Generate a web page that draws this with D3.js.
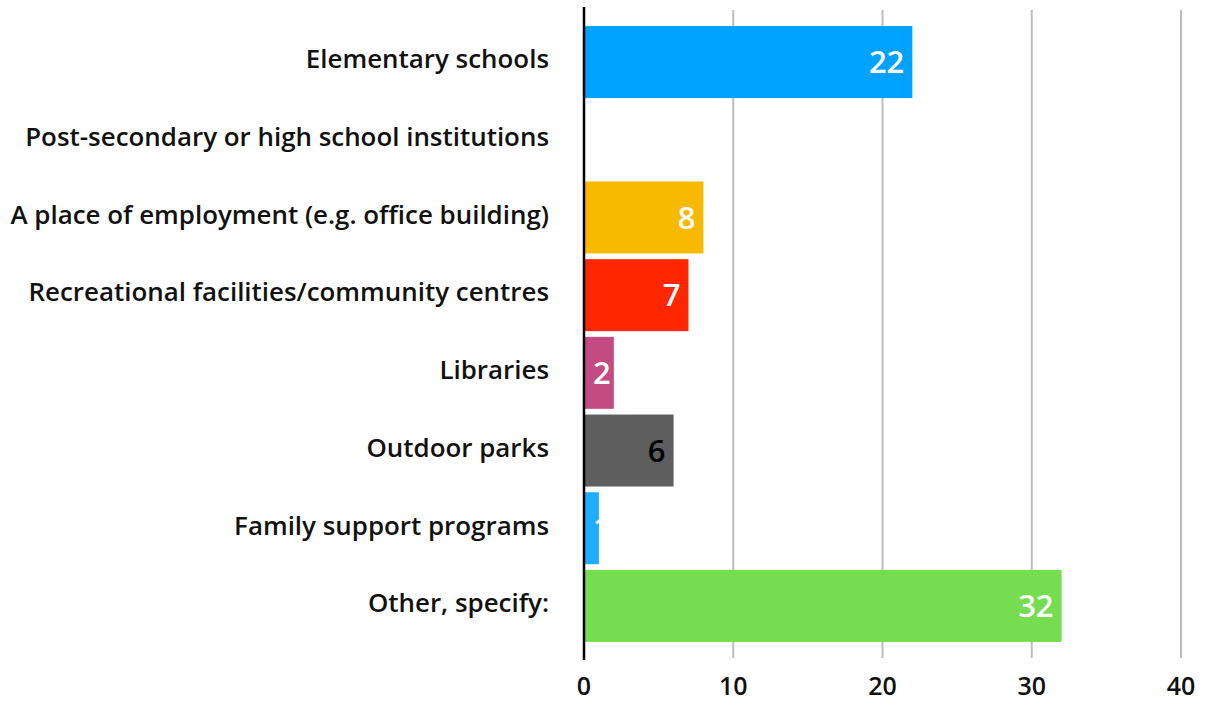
<!DOCTYPE html>
<html>
<head>
<meta charset="utf-8">
<script src="https://cdn.jsdelivr.net/npm/d3@7"></script>
<style>
  html, body { margin: 0; padding: 0; background: #fff; }
  svg { display: block; }
</style>
</head>
<body>
<svg id="chart" width="1209" height="704"></svg>
<script>
const categories = [
  "Elementary schools",
  "Post-secondary or high school institutions",
  "A place of employment (e.g. office building)",
  "Recreational facilities/community centres",
  "Libraries",
  "Outdoor parks",
  "Family support programs",
  "Other, specify:"
];
const values = [22, 0, 8, 7, 2, 6, 1, 32];
const barColors = ["#00A2FF", "#00A2FF", "#F8BA00", "#FF2600", "#C44B82", "#5E5E5E", "#20ADFF", "#75DD4F"];
const labelColors = ["#fff", "#fff", "#fff", "#fff", "#fff", "#000", "#fff", "#fff"];
const xTicks = [0, 10, 20, 30, 40];

const svg = d3.select("#chart");
const x = d3.scaleLinear().domain([0, 40]).range([584, 1181]);
const y = d3.scaleBand().domain(categories).range([10, 658]).paddingInner(0.0735).paddingOuter(0.207);

const font = "'Open Sans', Lato, sans-serif";

// gridlines
svg.append("g").selectAll("line").data(xTicks.filter(d => d > 0)).join("line")
  .attr("x1", d => x(d)).attr("x2", d => x(d))
  .attr("y1", 10).attr("y2", 658)
  .attr("stroke", "#BDBDBD").attr("stroke-width", 2);

// bars
const defs = svg.append("defs");
categories.forEach((c, i) => {
  defs.append("clipPath").attr("id", "clip" + i).append("rect")
    .attr("x", x(0)).attr("y", y(c))
    .attr("width", Math.max(0, x(values[i]) - x(0))).attr("height", y.bandwidth());
});

svg.append("g").selectAll("rect").data(categories).join("rect")
  .attr("x", x(0))
  .attr("y", d => y(d))
  .attr("width", (d, i) => x(values[i]) - x(0))
  .attr("height", y.bandwidth())
  .attr("fill", (d, i) => barColors[i]);

// value labels
const vl = svg.append("g");
categories.forEach((c, i) => {
  if (values[i] <= 0) return;
  const t = vl.append("text")
    .attr("clip-path", `url(#clip${i})`)
    .attr("y", y(c) + y.bandwidth() / 2)
    .attr("dy", "0.36em")
    .attr("font-family", font)
    .attr("font-size", 31)
    .attr("font-weight", 600)
    .attr("fill", labelColors[i])
    .text(values[i]);
  const w = t.node().getComputedTextLength();
  const xs = Math.max(x(values[i]) - 8 - w, x(0) + 9);
  t.attr("x", xs);
});

// axis line at 0
svg.append("line")
  .attr("x1", x(0)).attr("x2", x(0))
  .attr("y1", 7).attr("y2", 660)
  .attr("stroke", "#000").attr("stroke-width", 2.5);

// category labels
const cl = svg.append("g").selectAll("text").data(categories).join("text")
  .attr("x", 549)
  .attr("y", d => y(d) + y.bandwidth() / 2 - 3)
  .attr("dy", "0.36em")
  .attr("text-anchor", "end")
  .attr("font-family", font)
  .attr("font-size", 22)
  .attr("font-weight", 600)
  .attr("fill", "#111")
  .text(d => d);
// fit longest label to reference width
const maxW = d3.max(cl.nodes(), n => n.getComputedTextLength());
const fs = 22 * 539 / maxW;
cl.attr("font-size", fs);

// x tick labels
svg.append("g").selectAll("text").data(xTicks).join("text")
  .attr("x", d => x(d))
  .attr("y", 686)
  .attr("dy", "0.36em")
  .attr("text-anchor", "middle")
  .attr("font-family", font)
  .attr("font-size", 25)
  .attr("font-weight", 600)
  .attr("fill", "#111")
  .text(d => d);
</script>
</body>
</html>
